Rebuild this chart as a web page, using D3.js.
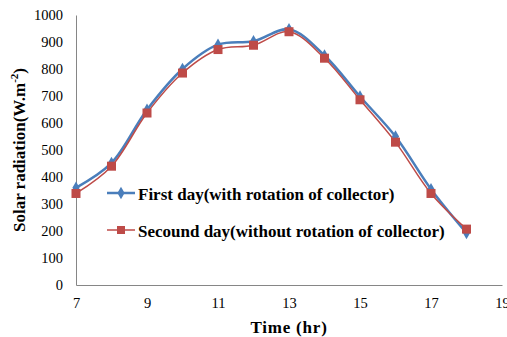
<!DOCTYPE html>
<html>
<head>
<meta charset="utf-8">
<script src="https://cdn.jsdelivr.net/npm/d3@7"></script>
<style>
  body { margin: 0; background: #fff; }
  svg text { font-family: "Liberation Serif", "Times New Roman", "DejaVu Serif", serif; }
</style>
</head>
<body>
<div id="chart"></div>
<script>
// heures
const hours = [7, 8, 9, 10, 11, 12, 13, 14, 15, 16, 17, 18];
// premier jour (avec rotation)
const firstDay = [360, 452, 649, 800, 890, 903, 947, 850, 698, 550, 355, 193];
// deuxième jour (sans rotation)
const secondDay = [339, 440, 637, 785, 872, 888, 938, 840, 686, 529, 339, 207];

const xTicks = [7, 9, 11, 13, 15, 17, 19];
const yTicks = [0, 100, 200, 300, 400, 500, 600, 700, 800, 900, 1000];

const seriesNames = [
  "First day(with rotation of collector)",
  "Secound day(without rotation of collector)"
];

var width = 507, height = 337;
var margin = { top: 15, right: 5, bottom: 52, left: 76 };

var svg = d3.select("#chart").append("svg")
  .attr("width", width)
  .attr("height", height);

var x = d3.scaleLinear().domain([7, 19]).range([margin.left, width - margin.right]);
var y = d3.scaleLinear().domain([0, 1000]).range([height - margin.bottom, margin.top]);

// axes
var xAxis = svg.append("g")
  .attr("transform", "translate(0," + y(0) + ")")
  .call(d3.axisBottom(x).tickValues(xTicks).tickFormat(d3.format("d")).tickSize(0).tickPadding(13));
var yAxis = svg.append("g")
  .attr("transform", "translate(" + x(7) + ",0)")
  .call(d3.axisLeft(y).tickValues(yTicks).tickFormat(d3.format("d")).tickSize(0).tickPadding(13));

[xAxis, yAxis].forEach(function (a) {
  a.attr("font-family", null);
  a.select(".domain").attr("stroke", "#868686");
  a.selectAll("text")
    .attr("font-size", 14.5)
    .attr("fill", "#000");
});

// titres
svg.append("text")
  .attr("x", x(13))
  .attr("y", 333)
  .attr("text-anchor", "middle")
  .attr("font-weight", "bold")
  .attr("font-size", 17)
  .attr("letter-spacing", 0.8)
  .text("Time (hr)");

var yt = svg.append("text")
  .attr("transform", "translate(25,150) rotate(-90)")
  .attr("text-anchor", "middle")
  .attr("font-weight", "bold")
  .attr("font-size", 17);
yt.append("tspan").text("Solar radiation(W.m");
yt.append("tspan").attr("dy", -7).attr("font-size", 11).text("-2");
yt.append("tspan").attr("dy", 7).text(")");

// courbes
var line = d3.line()
  .x(function (d) { return x(d[0]); })
  .y(function (d) { return y(d[1]); })
  .curve(d3.curveCatmullRom.alpha(0.5));

var s2 = hours.map(function (h, i) { return [h, secondDay[i]]; });
var s1 = hours.map(function (h, i) { return [h, firstDay[i]]; });

svg.append("path").datum(s1)
  .attr("fill", "none").attr("stroke", "#4A7EBB").attr("stroke-width", 2.5)
  .attr("d", line);
svg.append("path").datum(s2)
  .attr("fill", "none").attr("stroke", "#BE4B48").attr("stroke-width", 1.5)
  .attr("d", line);

var diamond = d3.symbol().type(d3.symbolDiamond).size(45);

svg.selectAll(".blue").data(s1).enter().append("path")
  .attr("class", "blue")
  .attr("d", diamond)
  .attr("fill", "#4A7EBB")
  .attr("transform", function (d) { return "translate(" + x(d[0]) + "," + y(d[1]) + ")"; });

svg.selectAll(".red").data(s2).enter().append("rect")
  .attr("class", "red")
  .attr("x", function (d) { return x(d[0]) - 4.5; })
  .attr("y", function (d) { return y(d[1]) - 4.5; })
  .attr("width", 9).attr("height", 9)
  .attr("fill", "#BE4B48");

// légende
var legend = svg.append("g");
var legY = [193, 230];
var legColors = ["#4A7EBB", "#BE4B48"];
var legWidths = [2.5, 1.5];

seriesNames.forEach(function (name, i) {
  legend.append("line")
    .attr("x1", 107).attr("x2", 135)
    .attr("y1", legY[i]).attr("y2", legY[i])
    .attr("stroke", legColors[i]).attr("stroke-width", legWidths[i]);
  if (i == 0) {
    legend.append("path").attr("d", diamond).attr("fill", legColors[i])
      .attr("transform", "translate(121," + legY[i] + ")");
  } else {
    legend.append("rect").attr("x", 117).attr("y", legY[i] - 4)
      .attr("width", 8).attr("height", 8).attr("fill", legColors[i]);
  }
  legend.append("text")
    .attr("x", 138).attr("y", legY[i] + 6.5)
    .attr("font-weight", "bold")
    .attr("font-size", 17)
    .text(name);
});
</script>
</body>
</html>
